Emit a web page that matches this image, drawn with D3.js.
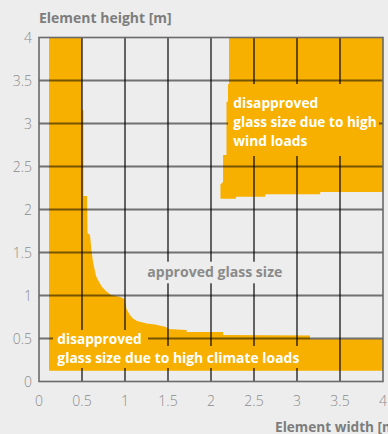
<!DOCTYPE html>
<html>
<head>
<meta charset="utf-8">
<script src="https://cdn.jsdelivr.net/npm/d3@7/dist/d3.min.js"></script>
<style>
  html, body { margin: 0; padding: 0; background: #ecedec; overflow: hidden; }
  svg { display: block; }
  text { font-family: "Open Sans", "DejaVu Sans", sans-serif; }
</style>
</head>
<body>
<svg id="chart" width="388" height="434"></svg>
<script>
// Axis ticks (metres)
const xTicks = [0, 0.5, 1, 1.5, 2, 2.5, 3, 3.5, 4];
const yTicks = [0, 0.5, 1, 1.5, 2, 2.5, 3, 3.5, 4];
const xTickLabels = ["0", "0.5", "1", "1.5", "2", "2.5", "3", "3.5", "4"];
const yTickLabels = ["0", "0.5", "1", "1.5", "2", "2.5", "3", "3.5", "4"];

// Limit of the climate-load zone: element width vs element height (m)
const climateWidth  = [0.117, 0.117, 0.50, 0.50, 0.517, 0.517, 0.558, 0.564, 0.593, 0.61, 0.628, 0.663, 0.698, 0.733, 0.779, 0.837, 0.942, 1.0, 1.017, 1.058, 1.093, 1.14, 1.252, 1.349, 1.477, 1.50, 1.717, 1.717, 2.14, 2.14, 3.151, 3.151, 4.0, 4.0];
const climateHeight = [0.125, 4.0, 4.0, 3.157, 3.157, 2.157, 2.157, 1.727, 1.703, 1.529, 1.39, 1.227, 1.157, 1.099, 1.052, 1.005, 0.983, 0.959, 0.843, 0.773, 0.733, 0.703, 0.674, 0.663, 0.634, 0.61, 0.599, 0.576, 0.576, 0.541, 0.535, 0.491, 0.491, 0.125];

// Limit of the wind-load zone
const windWidth  = [2.21, 4.0, 4.0, 3.27, 3.27, 2.63, 2.63, 2.29, 2.29, 2.11, 2.11, 2.14, 2.14, 2.18, 2.18, 2.21];
const windHeight = [4.0, 4.0, 2.203, 2.203, 2.177, 2.177, 2.149, 2.149, 2.124, 2.124, 2.29, 2.32, 2.634, 2.634, 3.253, 3.253];

const climateLabel = ["disapproved", "glass size due to high climate loads"];
const windLabel = ["disapproved", "glass size due to high", "wind loads"];
const approvedLabel = "approved glass size";

const ORANGE = "#f8b000";
const BG = "#ecedec";

const svg = d3.select("#chart");
const x = d3.scaleLinear().domain([0, 4]).range([39, 383]);
const y = d3.scaleLinear().domain([0, 4]).range([381.5, 37.5]);

const polygon = (ws, hs) =>
  d3.line().x(d => x(d[0])).y(d => y(d[1]))(ws.map((w, i) => [w, hs[i]])) + "Z";

// zones
svg.append("path").attr("d", polygon(climateWidth, climateHeight)).attr("fill", ORANGE);
svg.append("path").attr("d", polygon(windWidth, windHeight)).attr("fill", ORANGE);

// grid
const grid = svg.append("g");
grid.selectAll("line.h").data(yTicks.filter(v => v > 0 && v < 4)).join("line")
  .attr("x1", x(0)).attr("x2", x(4))
  .attr("y1", d => y(d)).attr("y2", d => y(d))
  .attr("stroke", "#000").attr("stroke-opacity", 0.52).attr("stroke-width", 2);
grid.selectAll("line.v").data(xTicks.filter(v => v > 0 && v < 4)).join("line")
  .attr("y1", y(0)).attr("y2", y(4))
  .attr("x1", d => x(d)).attr("x2", d => x(d))
  .attr("stroke", "#000").attr("stroke-opacity", 0.9).attr("stroke-width", 1.3);

// frame
svg.append("rect")
  .attr("x", x(0)).attr("y", y(4))
  .attr("width", x(4) - x(0)).attr("height", y(0) - y(4))
  .attr("fill", "none").attr("stroke", "#6a6a6a").attr("stroke-width", 1.6);

// tick labels
svg.append("g").selectAll("text").data(xTicks).join("text")
  .attr("x", d => x(d)).attr("y", 405.7)
  .attr("text-anchor", "middle")
  .attr("font-size", 14).attr("font-weight", 300).attr("fill", "#8c8c8c")
  .text((d, i) => xTickLabels[i]);
svg.append("g").selectAll("text").data(yTicks).join("text")
  .attr("x", 32).attr("y", d => y(d) + 5.3)
  .attr("text-anchor", "end")
  .attr("font-size", 14).attr("font-weight", 300).attr("fill", "#8c8c8c")
  .text((d, i) => yTickLabels[i]);

// axis titles
svg.append("text").attr("x", 39).attr("y", 22.7)
  .attr("font-size", 14.5).attr("font-weight", 700).attr("fill", "#7d7d7d")
  .attr("textLength", 132.7).attr("lengthAdjust", "spacingAndGlyphs")
  .text("Element height [m]");
svg.append("text").attr("x", 275).attr("y", 432)
  .attr("font-size", 14.5).attr("font-weight", 700).attr("fill", "#7d7d7d")
  .attr("textLength", 125).attr("lengthAdjust", "spacingAndGlyphs")
  .text("Element width [m]");

// zone labels with backing boxes that mask the grid
const labels = svg.append("g");

// approved area
labels.append("rect").attr("x", 142).attr("y", 261.7).attr("width", 145).attr("height", 21.6).attr("fill", BG);
labels.append("text").attr("x", 147.3).attr("y", 276.7)
  .attr("font-size", 15).attr("font-weight", 700).attr("fill", "#8a8a8a")
  .attr("textLength", 135).attr("lengthAdjust", "spacingAndGlyphs")
  .text(approvedLabel);

// wind-load zone
labels.append("rect").attr("x", 228).attr("y", 84).attr("width", 151).attr("height", 72).attr("fill", ORANGE);
const windLens = [85, 143.4, 74];
labels.selectAll("text.wind").data(windLabel).join("text")
  .attr("x", 233.3).attr("y", (d, i) => 108.3 + i * 19)
  .attr("font-size", 15).attr("font-weight", 700).attr("fill", "#fff")
  .attr("textLength", (d, i) => windLens[i]).attr("lengthAdjust", "spacingAndGlyphs")
  .text(d => d);

// climate-load zone
labels.append("rect").attr("x", 53).attr("y", 330).attr("width", 95).attr("height", 17).attr("fill", ORANGE);
labels.append("rect").attr("x", 53).attr("y", 346).attr("width", 250).attr("height", 22).attr("fill", ORANGE);
const climateLens = [84.4, 242];
labels.selectAll("text.climate").data(climateLabel).join("text")
  .attr("x", 57.3).attr("y", (d, i) => 344 + i * 19.3)
  .attr("font-size", 15).attr("font-weight", 700).attr("fill", "#fff")
  .attr("textLength", (d, i) => climateLens[i]).attr("lengthAdjust", "spacingAndGlyphs")
  .text(d => d);
</script>
</body>
</html>
